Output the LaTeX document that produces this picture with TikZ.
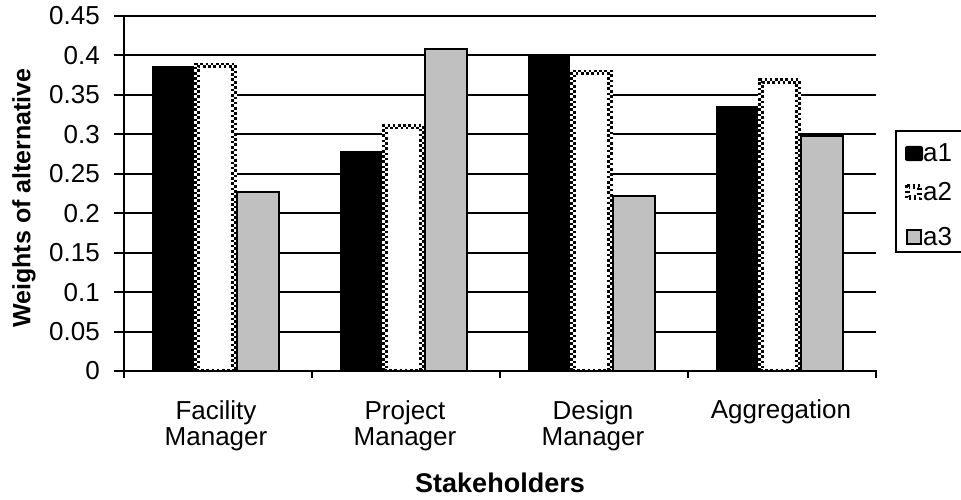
\documentclass[tikz,border=0pt]{standalone}
\usepackage{fontspec}
\setmainfont{Liberation Sans}
\definecolor{barg}{RGB}{192,192,192}
\tikzset{
  grid/.style={line width=2pt, black},
  lbl/.style={font=\fontsize{26}{26}\selectfont, inner sep=0pt},
  ttl/.style={font=\fontsize{27}{27}\selectfont\bfseries, inner sep=0pt},
  barA/.style={fill=black},
  barC/.style={fill=barg, draw=black, line width=2pt},
  chkA/.style={draw=black, line width=2.6pt, dash pattern=on 2.6pt off 2.6pt},
  chkB/.style={draw=black, line width=2.6pt, dash pattern=on 2.6pt off 2.6pt, dash phase=2.6pt},
}
\begin{document}
\begin{tikzpicture}[x=1pt,y=-1pt]
\useasboundingbox (0,0) rectangle (961,500);
% gridlines and y ticks
\foreach \k/\t in {0/0,1/0.05,2/0.1,3/0.15,4/0.2,5/0.25,6/0.3,7/0.35,8/0.4,9/0.45}{
  \pgfmathsetmacro{\yy}{371-\k*39.44}
  \ifnum\k>0 \draw[grid] (124,\yy) -- (876,\yy);\fi
  \draw[grid] (114,\yy) -- (124,\yy);
  \node[lbl, anchor=east] (yt\k) at (100,\yy) {\t};
}
\draw[grid] (124,16) -- (124,372);
% bars
\foreach \i/\a/\b/\c in {0/0.386/0.391/0.227, 1/0.279/0.313/0.408, 2/0.399/0.382/0.222, 3/0.336/0.371/0.298}{
  \pgfmathsetmacro{\xs}{124+188*\i+28}
  \pgfmathsetmacro{\ya}{371-\a*788.9}
  \pgfmathsetmacro{\yb}{371-\b*788.9}
  \pgfmathsetmacro{\yc}{371-\c*788.9}
  \fill[barA] (\xs,371) rectangle ({\xs+42.3},\ya);
  \fill[white] ({\xs+42.3},371) rectangle ({\xs+84.6},\yb);
  \draw[chkA] ({\xs+43.6},371) -- ({\xs+43.6},{\yb+1.3}) -- ({\xs+83.3},{\yb+1.3}) -- ({\xs+83.3},371);
  \draw[chkB] ({\xs+46.2},371) -- ({\xs+46.2},{\yb+3.9}) -- ({\xs+80.7},{\yb+3.9}) -- ({\xs+80.7},371);
  \draw[chkA, line width=2pt] ({\xs+44},369.5) -- ({\xs+83},369.5);
  \draw[barC] ({\xs+84.6},371) rectangle ({\xs+126.9},\yc);
}
% x axis and ticks
\draw[grid] (123,371) -- (877,371);
\foreach \i in {0,...,4}{
  \draw[grid] ({124+188*\i},371) -- ({124+188*\i},378);
}
% category labels
\node[lbl, align=center, anchor=base] (c0) at (216,445) {Facility\\Manager};
\node[lbl, align=center, anchor=base] (c1) at (405,445) {Project\\Manager};
\node[lbl, align=center, anchor=base] (c2) at (593,445) {Design\\Manager};
\node[lbl, anchor=base] (c3) at (781,418) {Aggregation};
% axis titles
\node[ttl] (xt) at (500,483) {Stakeholders};
\node[ttl, font=\fontsize{25}{25}\selectfont\bfseries, rotate=90] (yt) at (24,198) {Weights of alternative};
% legend
\draw[line width=2pt] (975,131) -- (896,131) -- (896,252) -- (975,252);
\fill[black, rounded corners=2pt] (905,146) rectangle (923,161);
\fill[white] (905,184) rectangle (922,200);
\draw[chkA] (906.3,185.3) rectangle (920.7,198.7);
\draw[chkB] (908.9,187.9) rectangle (918.1,196.1);
\draw[barC, line width=1.3pt] (907,230) rectangle (921,244);
\node[lbl, anchor=west] (l1) at (923,153) {a1};
\node[lbl, anchor=west] (l2) at (923,192) {a2};
\node[lbl, anchor=west] (l3) at (923,237) {a3};
\end{tikzpicture}
\end{document}
